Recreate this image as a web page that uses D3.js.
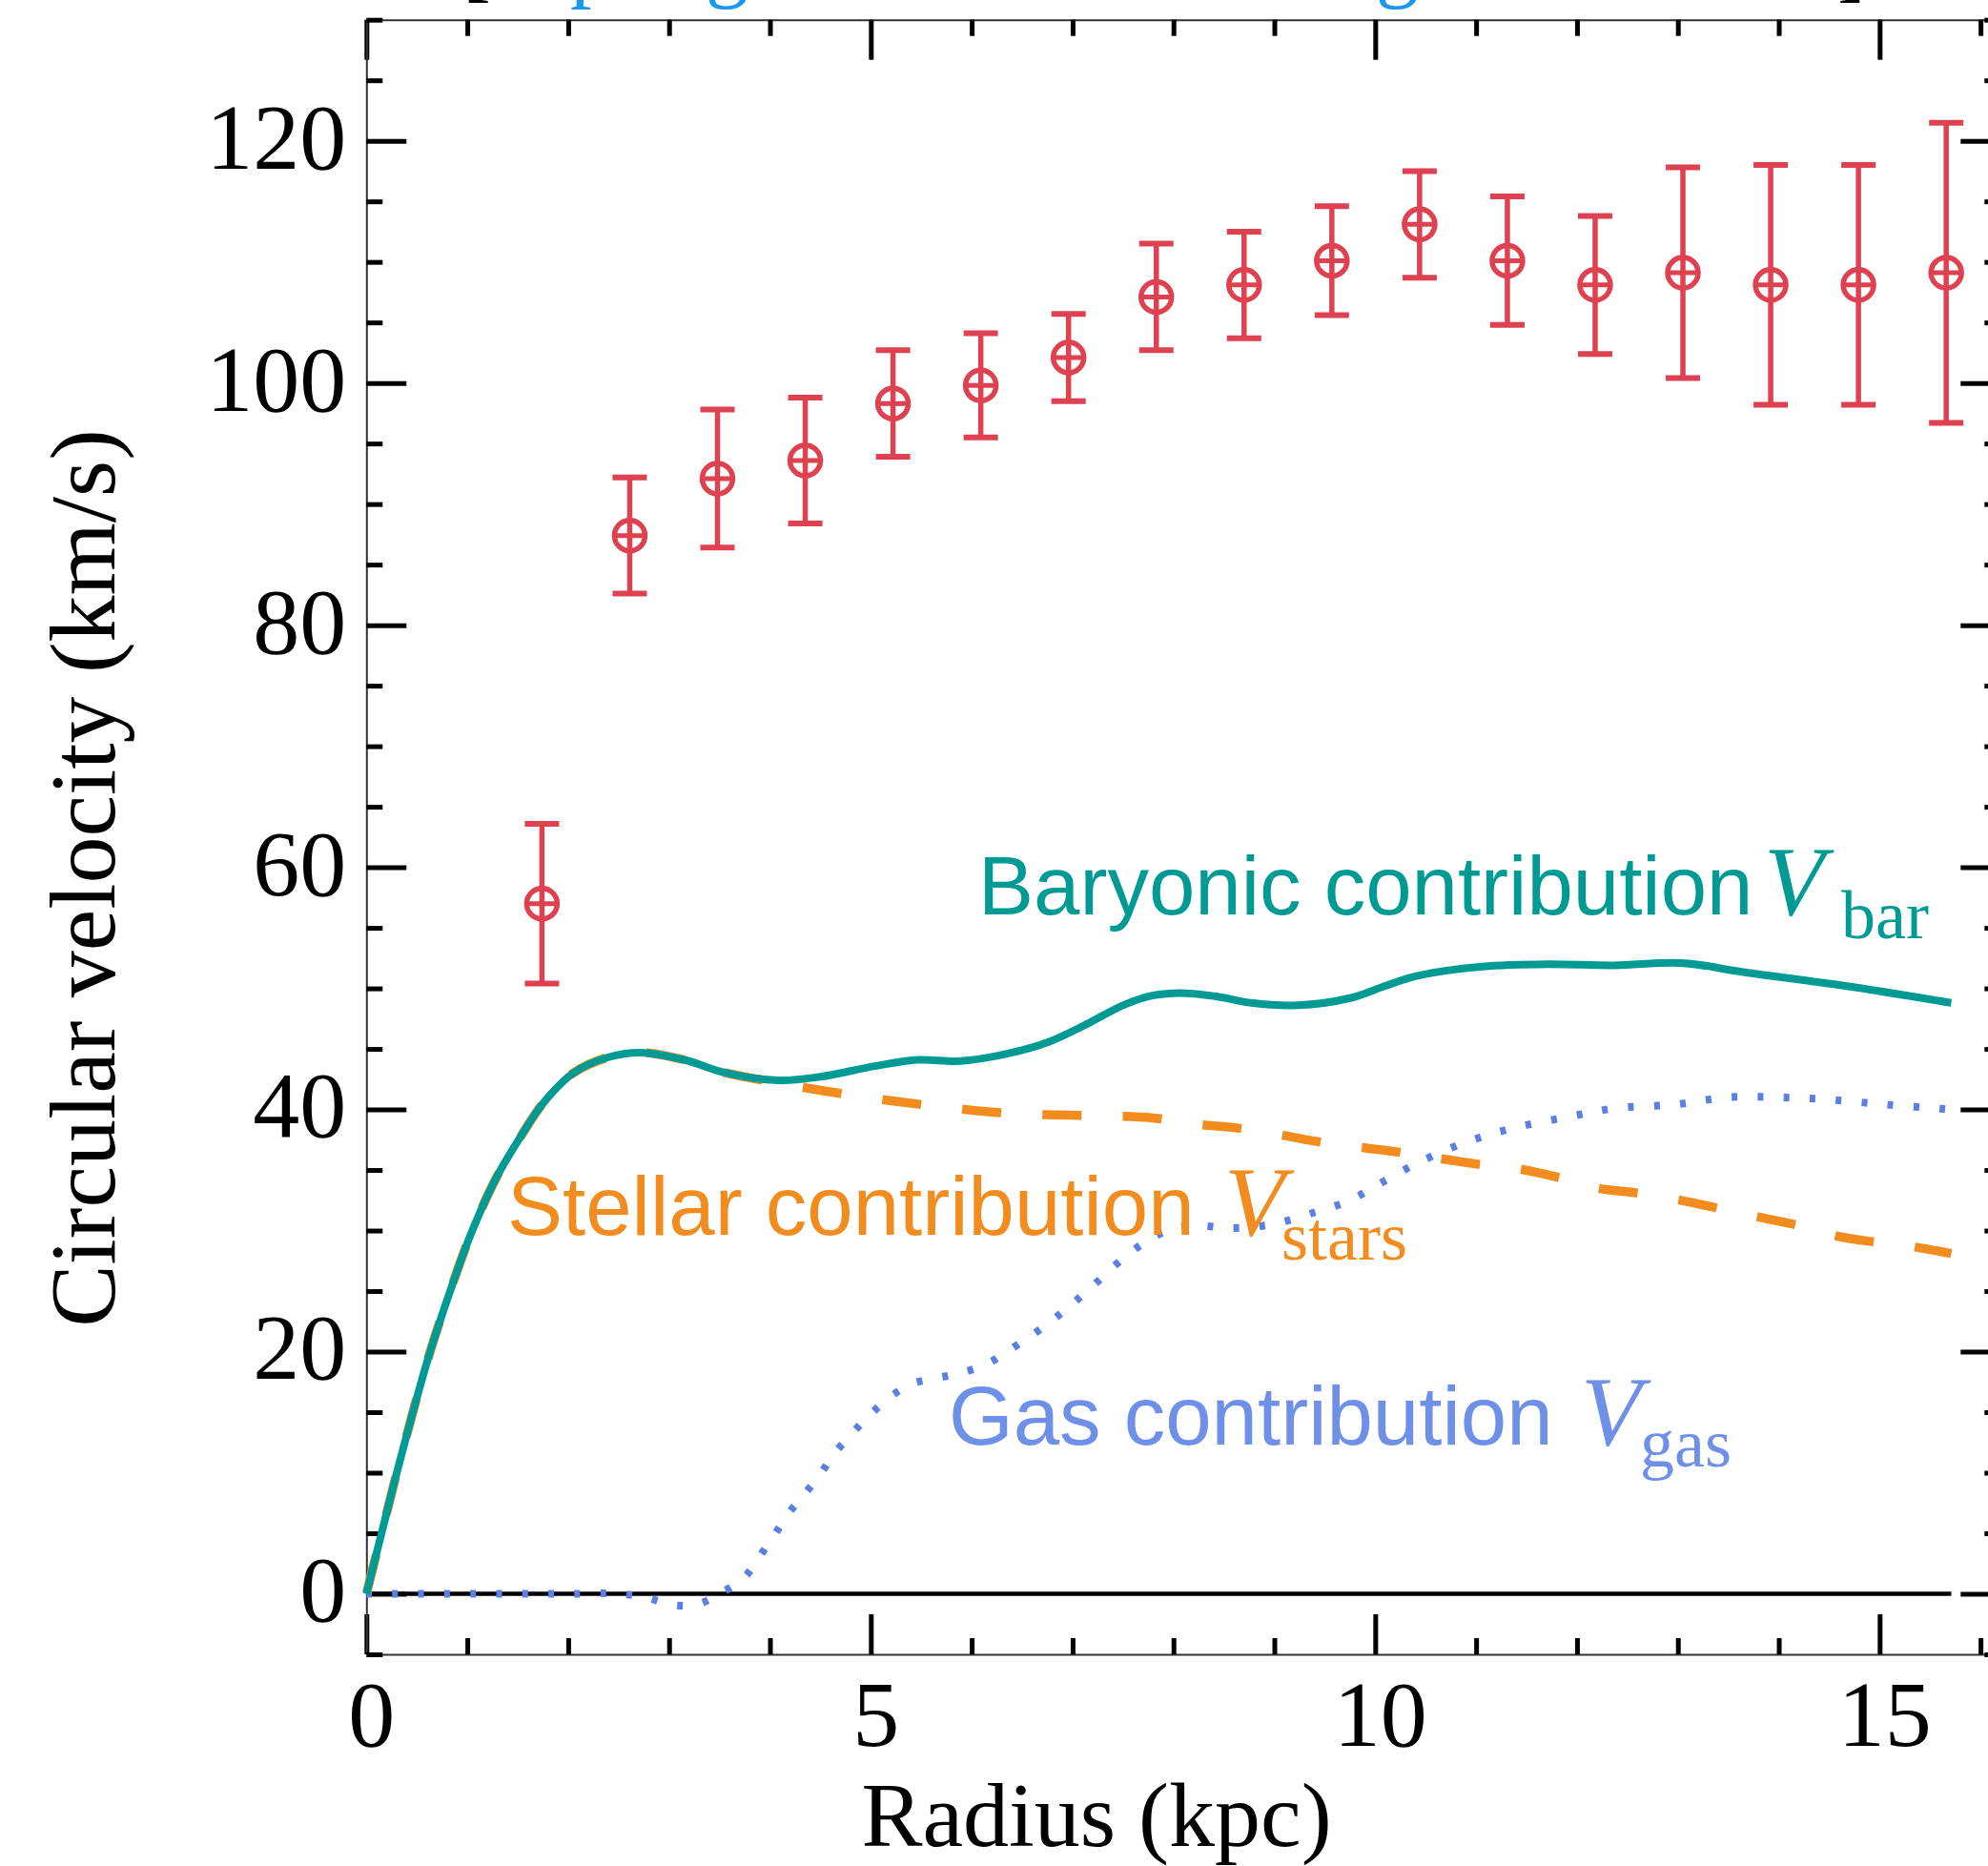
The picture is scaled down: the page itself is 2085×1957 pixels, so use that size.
<!DOCTYPE html>
<html><head><meta charset="utf-8">
<script src="https://cdn.jsdelivr.net/npm/d3@7"></script>
<style>body{margin:0;background:#fff;} svg{display:block;}</style>
</head><body>
<script>
// ---------------- data ----------------
const radiusObs = [1.74, 2.61, 3.48, 4.35, 5.22, 6.09, 6.96, 7.83, 8.70, 9.57, 10.44, 11.31, 12.18, 13.05, 13.92, 14.79, 15.66];
const vObs      = [57.0, 87.4, 92.1, 93.6, 98.3, 99.8, 102.1, 107.1, 108.1, 110.1, 113.1, 110.1, 108.1, 109.1, 108.1, 108.1, 109.1];
const vErr      = [6.6, 4.8, 5.7, 5.2, 4.4, 4.3, 3.6, 4.4, 4.4, 4.5, 4.4, 5.3, 5.7, 8.7, 9.9, 9.9, 12.4];

const rBar = [0, 0.15, 0.32, 0.61, 0.83, 1.04, 1.29, 1.54, 1.75, 2.05, 2.39, 2.72, 3.15, 3.57, 4.08, 4.50, 5.05, 5.47, 5.89, 6.35, 6.77, 7.13, 7.50, 7.79, 8.12, 8.45, 8.77, 9.23, 9.75, 10.10, 10.40, 11.06, 11.71, 12.37, 13.03, 13.68, 14.66, 15.71];
const vBar = [0, 5.0, 10.6, 19.4, 25.0, 29.8, 34.4, 37.9, 40.5, 43.0, 44.3, 44.7, 44.1, 43.0, 42.4, 42.7, 43.6, 44.1, 44.0, 44.6, 45.6, 47.0, 48.6, 49.4, 49.6, 49.3, 48.8, 48.6, 49.2, 50.2, 51.0, 51.8, 52.0, 51.9, 52.1, 51.3, 50.2, 48.8];

const rStars = [0, 0.15, 0.32, 0.61, 0.83, 1.04, 1.29, 1.54, 1.75, 2.05, 2.39, 2.72, 3.15, 3.57, 4.08, 4.71, 5.51, 6.34, 7.13, 7.79, 8.21, 8.60, 9.00, 9.39, 9.82, 10.21, 10.60, 11.00, 11.42, 11.81, 12.20, 12.60, 13.03, 13.42, 13.81, 14.21, 14.60, 15.00, 15.38, 15.71];
const vStars = [0, 5.0, 10.6, 19.4, 25.0, 29.8, 34.4, 37.9, 40.5, 43.0, 44.3, 44.7, 44.1, 43.0, 42.2, 41.3, 40.4, 39.7, 39.5, 39.3, 38.8, 38.5, 38.0, 37.4, 36.9, 36.5, 36.0, 35.5, 35.1, 34.4, 33.5, 33.1, 32.5, 31.8, 31.1, 30.4, 29.5, 29.0, 28.6, 28.1];

const rGas = [0, 0.5, 1.0, 1.5, 2.0, 2.5, 2.77, 3.02, 3.27, 3.50, 3.74, 3.89, 4.04, 4.18, 4.33, 4.50, 4.65, 4.82, 4.98, 5.17, 5.39, 5.64, 5.87, 6.13, 6.35, 6.77, 7.13, 7.56, 7.86, 8.18, 8.58, 8.97, 9.36, 9.75, 10.01, 10.40, 10.90, 11.39, 11.92, 12.38, 12.96, 13.49, 14.01, 14.53, 15.06, 15.55, 15.71];
const vGas = [0, 0, 0, 0, 0, 0, -0.3, -0.9, -0.9, 0, 1.3, 3.0, 4.8, 6.6, 8.1, 9.9, 11.7, 13.3, 14.7, 16.1, 17.3, 17.8, 18.2, 18.9, 20.0, 22.4, 24.9, 28.1, 29.7, 30.4, 30.2, 30.5, 31.4, 32.5, 33.7, 35.5, 37.3, 38.5, 39.4, 40.1, 40.4, 41.0, 41.0, 40.8, 40.4, 40.1, 40.0];

const xMajorTicks = [0, 5, 10, 15];
const xMinorTicks = [1, 2, 3, 4, 6, 7, 8, 9, 11, 12, 13, 14, 16];
const yMajorTicks = [0, 20, 40, 60, 80, 100, 120];
const yMinorTicks = d3.range(-5, 131, 5).filter(v => v % 20 !== 0);
const xDomain = [0, 16.2];
const yDomain = [-5, 130];

const xTitle = "Radius (kpc)";
const yTitle = "Circular velocity (km/s)";
const labelMain = ["Baryonic contribution", "Stellar contribution", "Gas contribution"];
const labelSym  = ["V", "V", "V"];
const labelSub  = ["bar", "stars", "gas"];
const topGlyphs = ["[", "p", "g", "g", "]"];

// ---------------- layout / style ----------------
const W = 2085, H = 1957;
const serif = "'Liberation Serif','Times New Roman',Times,serif";
const sans = "'Liberation Sans',Arial,Helvetica,sans-serif";
const cTeal = "#009a95", cOrange = "#f28c1e", cBlue = "#5b80e2", cBlueText = "#6e90e8", cRed = "#de4150";

const svg = d3.select("body").append("svg").attr("width", W).attr("height", H)
  .style("background", "#fff");

const x = d3.scaleLinear().domain(xDomain).range([384.3, 2098.3]);
const y = d3.scaleLinear().domain(yDomain).range([1735, 20.7]);

function styleAxis(g) {
  g.select(".domain").attr("stroke", "#333").attr("stroke-width", 2);
  g.selectAll(".tick line").attr("stroke", "#000").attr("stroke-width", 5);
  g.selectAll(".tick text").attr("font-family", serif).attr("font-size", 98).attr("fill", "#000");
}
function minorAxis(g) {
  g.select(".domain").remove();
  g.selectAll(".tick line").attr("stroke", "#000").attr("stroke-width", 5);
  g.selectAll(".tick text").remove();
}

// bottom
svg.append("g").attr("transform", `translate(0,${y(yDomain[0])})`)
  .call(d3.axisBottom(x).tickValues(xMajorTicks).tickSize(-42).tickSizeOuter(0).tickPadding(26).tickFormat(d3.format("d")))
  .call(styleAxis)
  .call(g => g.selectAll(".tick text").attr("dx", 5));
svg.append("g").attr("transform", `translate(0,${y(yDomain[0])})`)
  .call(d3.axisBottom(x).tickValues(xMinorTicks).tickSize(-17).tickSizeOuter(0)).call(minorAxis);
// top
svg.append("g").attr("transform", `translate(0,${y(yDomain[1])})`)
  .call(d3.axisTop(x).tickValues(xMajorTicks).tickSize(-42).tickSizeOuter(0).tickFormat(""))
  .call(styleAxis);
svg.append("g").attr("transform", `translate(0,${y(yDomain[1])})`)
  .call(d3.axisTop(x).tickValues(xMinorTicks).tickSize(-17).tickSizeOuter(0)).call(minorAxis);
// left
svg.append("g").attr("transform", `translate(${x(xDomain[0])},0)`)
  .call(d3.axisLeft(y).tickValues(yMajorTicks).tickSize(-42).tickSizeOuter(0).tickPadding(21).tickFormat(d3.format("d")))
  .call(styleAxis)
  .call(g => g.selectAll(".tick text").attr("dy", "0.29em"));
svg.append("g").attr("transform", `translate(${x(xDomain[0])},0)`)
  .call(d3.axisLeft(y).tickValues(yMinorTicks).tickSize(-17).tickSizeOuter(0)).call(minorAxis);
// right
svg.append("g").attr("transform", `translate(${x(xDomain[1])},0)`)
  .call(d3.axisRight(y).tickValues(yMajorTicks).tickSize(-42).tickSizeOuter(0).tickFormat(""))
  .call(styleAxis);
svg.append("g").attr("transform", `translate(${x(xDomain[1])},0)`)
  .call(d3.axisRight(y).tickValues(yMinorTicks).tickSize(-17).tickSizeOuter(0)).call(minorAxis);

// zero line
svg.append("line")
  .attr("x1", x(0)).attr("x2", x(d3.max(rBar)))
  .attr("y1", y(0)).attr("y2", y(0))
  .attr("stroke", "#000").attr("stroke-width", 4.5);

// curves
const line = d3.line().x(d => x(d[0])).y(d => y(d[1])).curve(d3.curveCatmullRom.alpha(0.5));
function lengthAtX(node, px) {
  let lo = 0, hi = node.getTotalLength();
  for (let i = 0; i < 40; i++) {
    const mid = (lo + hi) / 2;
    if (node.getPointAtLength(mid).x < px) lo = mid; else hi = mid;
  }
  return lo;
}

const gasPath = svg.append("path")
  .datum(rGas.map((r, i) => [r, vGas[i]]))
  .attr("d", line).attr("fill", "none").attr("stroke", cBlue)
  .attr("stroke-width", 8).attr("stroke-dasharray", "6 21.3");
{
  const P = 27.3, L0 = lengthAtX(gasPath.node(), 411.3);
  gasPath.attr("stroke-dashoffset", (P - (L0 % P)) % P);
}

const starsPath = svg.append("path")
  .datum(rStars.map((r, i) => [r, vStars[i]]))
  .attr("d", line).attr("fill", "none").attr("stroke", cOrange)
  .attr("stroke-width", 9.5).attr("stroke-dasharray", "41 43.3");
{
  const P = 84.3, L0 = lengthAtX(starsPath.node(), 842);
  starsPath.attr("stroke-dashoffset", (P - (L0 % P)) % P);
}

svg.append("path")
  .datum(rBar.map((r, i) => [r, vBar[i]]))
  .attr("d", line).attr("fill", "none").attr("stroke", cTeal)
  .attr("stroke-width", 8).attr("stroke-linejoin", "round");

// observed points
const pts = svg.append("g").selectAll("g").data(radiusObs.map((r, i) => ({ r, v: vObs[i], e: vErr[i] })))
  .join("g").attr("stroke", cRed).attr("fill", "none");
pts.append("line").attr("x1", d => x(d.r)).attr("x2", d => x(d.r))
  .attr("y1", d => y(d.v - d.e)).attr("y2", d => y(d.v + d.e)).attr("stroke-width", 5.5);
pts.append("line").attr("x1", d => x(d.r) - 18).attr("x2", d => x(d.r) + 18)
  .attr("y1", d => y(d.v + d.e)).attr("y2", d => y(d.v + d.e)).attr("stroke-width", 6);
pts.append("line").attr("x1", d => x(d.r) - 18).attr("x2", d => x(d.r) + 18)
  .attr("y1", d => y(d.v - d.e)).attr("y2", d => y(d.v - d.e)).attr("stroke-width", 6);
pts.append("circle").attr("cx", d => x(d.r)).attr("cy", d => y(d.v)).attr("r", 16).attr("stroke-width", 5.5);
pts.append("line").attr("x1", d => x(d.r) - 16).attr("x2", d => x(d.r) + 16)
  .attr("y1", d => y(d.v)).attr("y2", d => y(d.v)).attr("stroke-width", 5);

// curve labels
const labelPos = [
  { x: 1026, y: 959, vx: 1850, subx: 1931, suby: 984, color: cTeal },
  { x: 532, y: 1295, vx: 1284, subx: 1344, suby: 1321, color: cOrange },
  { x: 995, y: 1515, vx: 1658, subx: 1720, suby: 1538, color: cBlueText }
];
labelMain.forEach((t, i) => {
  const p = labelPos[i];
  svg.append("text").attr("x", p.x).attr("y", p.y).attr("font-family", sans)
    .attr("font-size", 87).attr("fill", p.color).text(t);
  svg.append("text").attr("x", p.vx).attr("y", p.y).attr("font-family", serif)
    .attr("font-style", "italic").attr("font-size", 104).attr("fill", p.color).text(labelSym[i]);
  svg.append("text").attr("x", p.subx).attr("y", p.suby).attr("font-family", serif)
    .attr("font-size", 72).attr("fill", p.color).text(labelSub[i]);
});

// axis titles
svg.append("text").attr("x", 1150).attr("y", 1936).attr("text-anchor", "middle")
  .attr("font-family", serif).attr("font-size", 96).attr("fill", "#000").text(xTitle);
svg.append("text").attr("transform", "translate(120,921) rotate(-90)").attr("text-anchor", "middle")
  .attr("font-family", serif).attr("font-size", 98).attr("fill", "#000").text(yTitle);

// cut-off caption line at the very top (only its lowest parts are visible, as in the reference)
const topX = [485, 598, 740, 1443, 1927];
const topCol = ["#000", "#1a98f0", "#1a98f0", "#1a98f0", "#000"];
topGlyphs.forEach((g, i) => {
  svg.append("text").attr("x", topX[i]).attr("y", -9).attr("font-family", serif)
    .attr("font-size", 90).attr("fill", topCol[i]).text(g);
});
</script>
</body></html>
